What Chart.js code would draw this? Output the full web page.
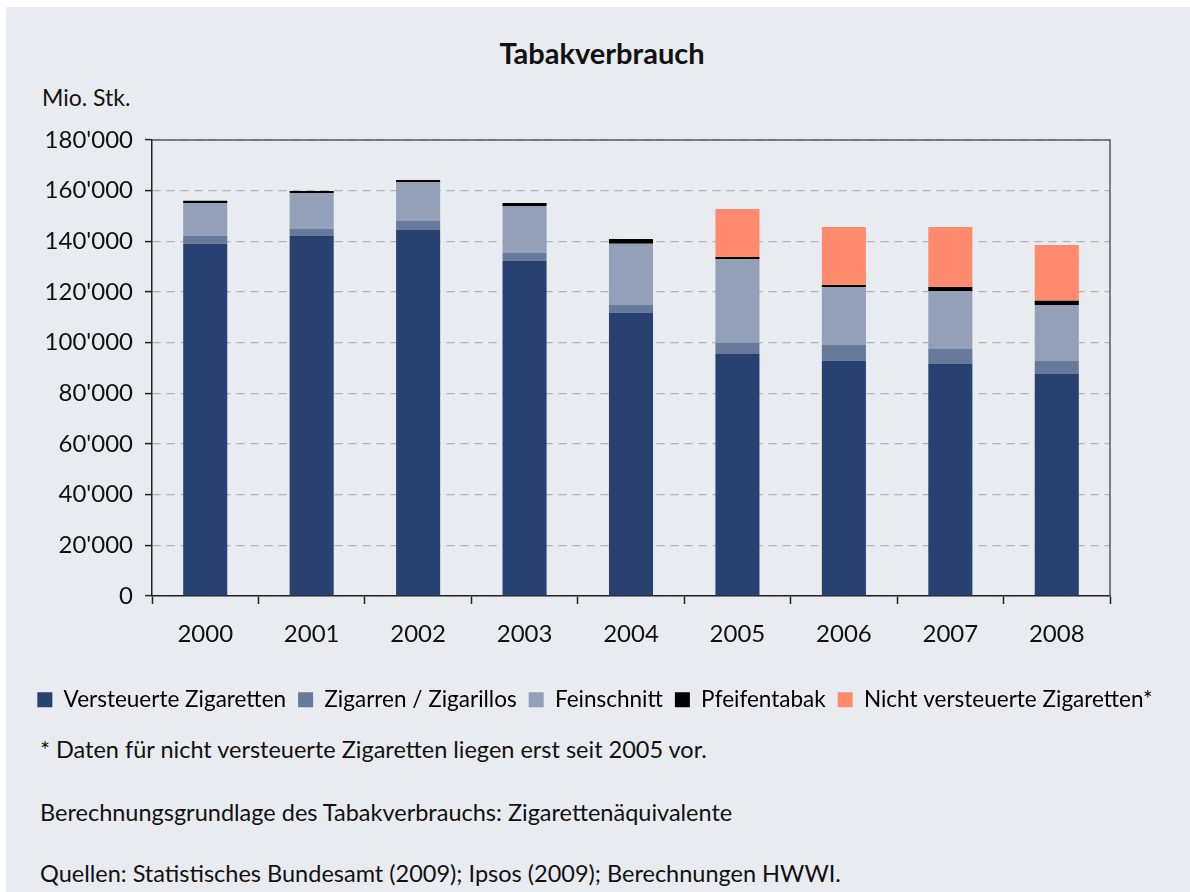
<!DOCTYPE html>
<html>
<head>
<meta charset="utf-8">
<script src="https://cdn.jsdelivr.net/npm/chart.js@4"></script>
<style>
  body { margin: 0; background: #fff; font-family: Lato, "Open Sans", sans-serif; }
  #panel { position: absolute; left: 6px; top: 7px; width: 1184px; height: 885px; background: #e8ebf0; }
  #chartBox { position: absolute; left: 0; top: 0; width: 1190px; height: 721px; }
  .txt { position: absolute; color: #111; white-space: nowrap; }
  #title { left: 0; width: 1204px; text-align: center; top: 35px; font-size: 29px; font-weight: bold; }
  #unit { left: 42px; top: 83px; font-size: 23px; }
  .note { left: 40px; font-size: 23.5px; }
</style>
</head>
<body>
<div id="panel"></div>
<div class="txt" id="title">Tabakverbrauch</div>
<div class="txt" id="unit">Mio. Stk.</div>
<div id="chartBox"><canvas id="chart"></canvas></div>
<div class="txt note" style="top:735px">* Daten für nicht versteuerte Zigaretten liegen erst seit 2005 vor.</div>
<div class="txt note" style="top:798px">Berechnungsgrundlage des Tabakverbrauchs: Zigarettenäquivalente</div>
<div class="txt note" style="top:859px">Quellen: Statistisches Bundesamt (2009); Ipsos (2009); Berechnungen HWWI.</div>
<script>
const years = ['2000', '2001', '2002', '2003', '2004', '2005', '2006', '2007', '2008'];
const versteuerte = [139000, 142100, 144500, 132200, 111700, 95500, 92800, 91600, 87600];
const zigarren = [3100, 2800, 3500, 3200, 3200, 4400, 6300, 5900, 5200];
const feinschnitt = [13000, 14200, 15400, 18500, 24100, 33100, 22900, 22900, 22100];
const pfeife = [900, 800, 800, 1200, 1900, 800, 800, 1600, 1600];
const nichtVersteuert = [null, null, null, null, null, 19000, 22900, 23700, 22100];
const seriesNames = ['Versteuerte Zigaretten', 'Zigarren / Zigarillos', 'Feinschnitt', 'Pfeifentabak', 'Nicht versteuerte Zigaretten*'];
const seriesColors = ['#284170', '#687a9b', '#94a0b7', '#000000', '#ff8a6e'];
const yTicks = [0, 20000, 40000, 60000, 80000, 100000, 120000, 140000, 160000, 180000];

const FONT = 'Lato, "Open Sans", sans-serif';

function fmt(v) {
    return String(v).replace(/\B(?=(\d{3})+(?!\d))/g, "'");
}

// top and right frame of the plot area
const frame = {
    id: 'frame',
    afterDraw(chart) {
        const a = chart.chartArea, c = chart.ctx;
        c.save();
        c.strokeStyle = '#5a5a5a';
        c.lineWidth = 1.5;
        c.beginPath();
        c.moveTo(a.left, a.top);
        c.lineTo(a.right, a.top);
        c.lineTo(a.right, a.bottom);
        c.stroke();
        c.restore();
    }
};

const allData = [versteuerte, zigarren, feinschnitt, pfeife, nichtVersteuert];
const datasets = [];
for (let i = 0; i < allData.length; i++) {
    datasets.push({
        label: seriesNames[i],
        data: allData[i],
        backgroundColor: seriesColors[i],
        borderWidth: 0,
        barPercentage: 0.414,
        categoryPercentage: 1
    });
}

new Chart(document.getElementById('chart').getContext('2d'), {
    type: 'bar',
    data: { labels: years, datasets: datasets },
    options: {
        responsive: true,
        maintainAspectRatio: false,
        animation: false,
        layout: { padding: { top: 140, left: 0, right: 0, bottom: 0 } },
        plugins: {
            tooltip: { enabled: false },
            title: { display: false },
            legend: {
                position: 'bottom',
                labels: {
                    boxWidth: 15,
                    boxHeight: 15,
                    padding: 12,
                    color: '#000',
                    font: { family: FONT, size: 22.5 }
                }
            }
        },
        scales: {
            x: {
                stacked: true,
                afterFit: s => { s.height = 80.5; },
                grid: { offset: true, drawOnChartArea: false, tickLength: 8, tickColor: '#222', tickWidth: 1.5 },
                border: { color: '#222', width: 1.5 },
                ticks: { color: '#111', padding: 16, font: { family: FONT, size: 24 } }
            },
            y: {
                stacked: true,
                min: 0,
                max: 180000,
                afterFit: s => { s.width = 152; },
                afterBuildTicks: s => { s.ticks = yTicks.map(v => ({ value: v })); },
                grid: { color: '#b2b2b2', lineWidth: 1.2, tickLength: 7, tickColor: '#222', tickWidth: 1.5, tickBorderDash: [] },
                border: { color: '#222', width: 1.5, dash: [8, 6] },
                ticks: { color: '#111', padding: 12, font: { family: FONT, size: 24 }, callback: v => fmt(v) }
            },
            yR: {
                position: 'right',
                display: true,
                afterFit: s => { s.width = 80; },
                grid: { drawOnChartArea: false, drawTicks: false },
                border: { display: false },
                ticks: { display: false }
            }
        }
    },
    plugins: [frame]
});
</script>
</body>
</html>
